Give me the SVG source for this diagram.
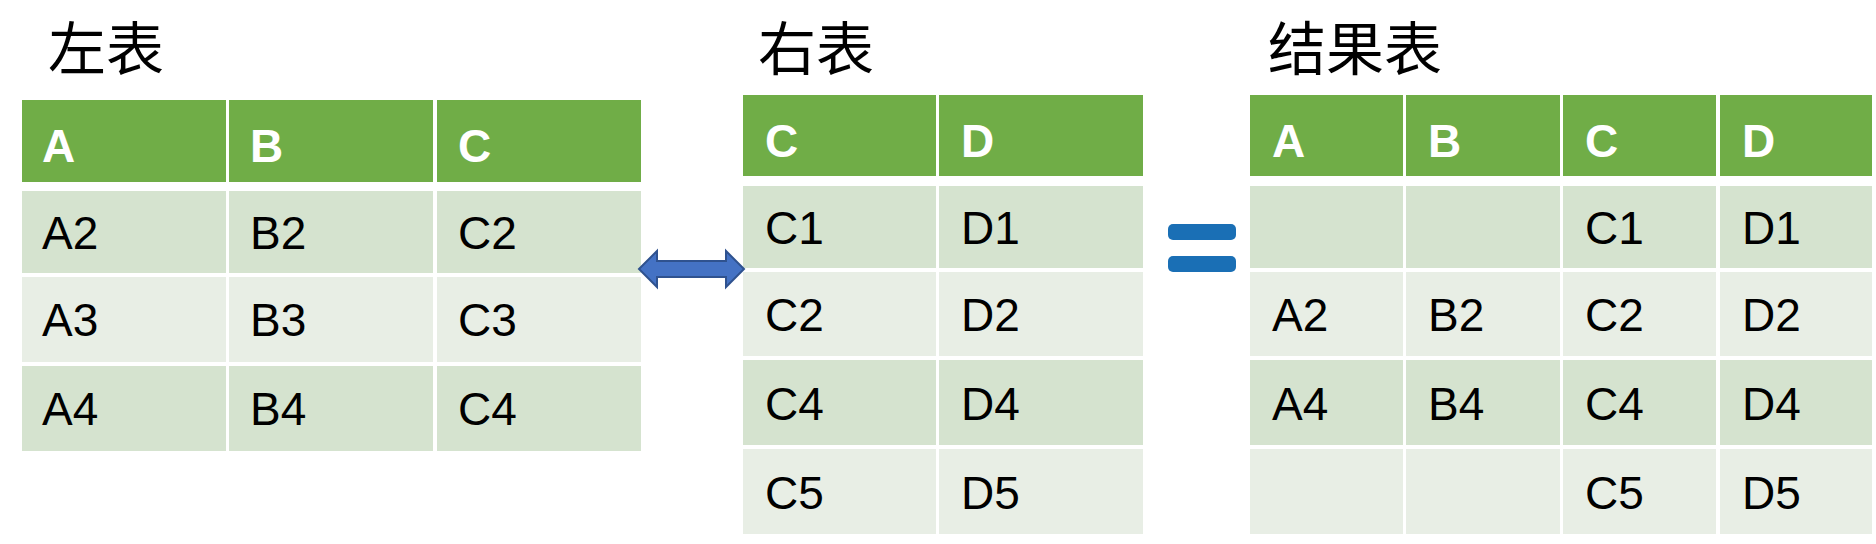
<svg xmlns="http://www.w3.org/2000/svg" width="1876" height="544" viewBox="0 0 1876 544">
<style>
.h{fill:#70ad47}.d{fill:#d5e3cf}.l{fill:#e8eee5}
.ht{font-family:"Liberation Sans",Arial,sans-serif;font-weight:bold;font-size:46px;fill:#fff}
.t{font-family:"Liberation Sans",Arial,sans-serif;font-size:46px;fill:#000}
.ti{font-family:"Noto Sans CJK SC",sans-serif;font-size:58px;fill:#000}
</style>
<rect width="1876" height="544" fill="#fff"/>
<g id="left">
<text class="ti" x="48" y="70">左表</text>
<rect class="h" x="22" y="100" width="204" height="82"/><rect class="h" x="229" y="100" width="204" height="82"/><rect class="h" x="437" y="100" width="204" height="82"/>
<rect class="d" x="22" y="191" width="204" height="82"/><rect class="d" x="229" y="191" width="204" height="82"/><rect class="d" x="437" y="191" width="204" height="82"/>
<rect class="l" x="22" y="277" width="204" height="85"/><rect class="l" x="229" y="277" width="204" height="85"/><rect class="l" x="437" y="277" width="204" height="85"/>
<rect class="d" x="22" y="366" width="204" height="85"/><rect class="d" x="229" y="366" width="204" height="85"/><rect class="d" x="437" y="366" width="204" height="85"/>
<text class="ht" x="42" y="162">A</text><text class="ht" x="250" y="162">B</text><text class="ht" x="458" y="162">C</text>
<text class="t" x="42" y="249">A2</text><text class="t" x="250" y="249">B2</text><text class="t" x="458" y="249">C2</text>
<text class="t" x="42" y="336">A3</text><text class="t" x="250" y="336">B3</text><text class="t" x="458" y="336">C3</text>
<text class="t" x="42" y="425">A4</text><text class="t" x="250" y="425">B4</text><text class="t" x="458" y="425">C4</text>
</g>
<g id="right">
<text class="ti" x="758" y="70">右表</text>
<rect class="h" x="743" y="95" width="193" height="81"/><rect class="h" x="939" y="95" width="204" height="81"/>
<rect class="d" x="743" y="186" width="193" height="82"/><rect class="d" x="939" y="186" width="204" height="82"/>
<rect class="l" x="743" y="272" width="193" height="84"/><rect class="l" x="939" y="272" width="204" height="84"/>
<rect class="d" x="743" y="360" width="193" height="85"/><rect class="d" x="939" y="360" width="204" height="85"/>
<rect class="l" x="743" y="449" width="193" height="85"/><rect class="l" x="939" y="449" width="204" height="85"/>
<text class="ht" x="765" y="157">C</text><text class="ht" x="961" y="157">D</text>
<text class="t" x="765" y="244">C1</text><text class="t" x="961" y="244">D1</text>
<text class="t" x="765" y="331">C2</text><text class="t" x="961" y="331">D2</text>
<text class="t" x="765" y="420">C4</text><text class="t" x="961" y="420">D4</text>
<text class="t" x="765" y="509">C5</text><text class="t" x="961" y="509">D5</text>
</g>
<g id="result">
<text class="ti" x="1268" y="70">结果表</text>
<rect class="h" x="1250" y="95" width="153" height="81"/><rect class="h" x="1406" y="95" width="154" height="81"/><rect class="h" x="1563" y="95" width="153" height="81"/><rect class="h" x="1720" y="95" width="152" height="81"/>
<rect class="d" x="1250" y="186" width="153" height="82"/><rect class="d" x="1406" y="186" width="154" height="82"/><rect class="d" x="1563" y="186" width="153" height="82"/><rect class="d" x="1720" y="186" width="152" height="82"/>
<rect class="l" x="1250" y="272" width="153" height="84"/><rect class="l" x="1406" y="272" width="154" height="84"/><rect class="l" x="1563" y="272" width="153" height="84"/><rect class="l" x="1720" y="272" width="152" height="84"/>
<rect class="d" x="1250" y="360" width="153" height="85"/><rect class="d" x="1406" y="360" width="154" height="85"/><rect class="d" x="1563" y="360" width="153" height="85"/><rect class="d" x="1720" y="360" width="152" height="85"/>
<rect class="l" x="1250" y="449" width="153" height="85"/><rect class="l" x="1406" y="449" width="154" height="85"/><rect class="l" x="1563" y="449" width="153" height="85"/><rect class="l" x="1720" y="449" width="152" height="85"/>
<text class="ht" x="1272" y="157">A</text><text class="ht" x="1428" y="157">B</text><text class="ht" x="1585" y="157">C</text><text class="ht" x="1742" y="157">D</text>
<text class="t" x="1585" y="244">C1</text><text class="t" x="1742" y="244">D1</text>
<text class="t" x="1272" y="331">A2</text><text class="t" x="1428" y="331">B2</text><text class="t" x="1585" y="331">C2</text><text class="t" x="1742" y="331">D2</text>
<text class="t" x="1272" y="420">A4</text><text class="t" x="1428" y="420">B4</text><text class="t" x="1585" y="420">C4</text><text class="t" x="1742" y="420">D4</text>
<text class="t" x="1585" y="509">C5</text><text class="t" x="1742" y="509">D5</text>
</g>
<g id="connectors">
<path d="M639,269 L657,251 L657,261 L726,261 L726,251 L744,269 L726,287 L726,277 L657,277 L657,287 Z" fill="#4472c4" stroke="#2f528f" stroke-width="2"/>
<rect x="1168" y="224" width="68" height="16" rx="5" fill="#1a6fb5"/>
<rect x="1168" y="256" width="68" height="16" rx="5" fill="#1a6fb5"/>
</g>
</svg>
